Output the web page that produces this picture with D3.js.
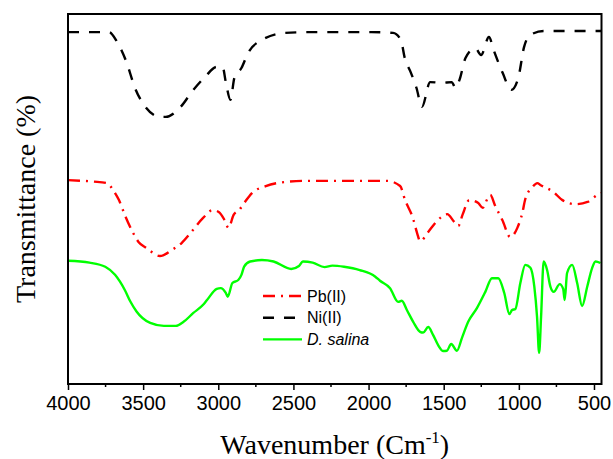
<!DOCTYPE html>
<html>
<head>
<meta charset="utf-8">
<script src="https://cdn.jsdelivr.net/npm/d3@7"></script>
<style>
  body { margin: 0; background: #fff; }
  svg { display: block; }
</style>
</head>
<body>
<div id="chart"></div>
<script>
const width = 613;
const height = 459;
const margin = { top: 14, right: 11.5, bottom: 75, left: 68 };

// wavenumber (cm-1), transmittance in arbitrary offset units (0-100)
const niWave = [4000, 3726, 3674, 3609, 3557, 3479, 3388, 3349, 3257, 3166, 3088, 3010, 2971, 2950, 2919, 2893, 2846, 2801, 2710, 2554, 2372, 1981, 1837, 1785, 1759, 1720, 1681, 1645, 1590, 1512, 1447, 1421, 1395, 1355, 1290, 1251, 1199, 1168, 1108, 1050, 1004, 965, 926, 834, 450];
const niT = [95.1, 95.1, 92.5, 86.8, 80.3, 74.6, 72.2, 72.2, 74.6, 79.5, 83.0, 85.7, 85.7, 81.6, 76.8, 82.7, 85.4, 89.5, 93.0, 94.9, 95.1, 95.1, 94.9, 93.0, 88.1, 84.3, 80.0, 74.9, 81.6, 81.4, 81.6, 80.0, 82.2, 88.1, 90.8, 88.9, 93.8, 90.3, 84.1, 79.5, 82.7, 91.1, 94.3, 95.4, 95.4];

const pbWave = [4000, 3831, 3739, 3700, 3661, 3622, 3570, 3531, 3479, 3388, 3310, 3244, 3179, 3101, 3036, 2997, 2958, 2932, 2898, 2861, 2828, 2776, 2684, 2554, 2424, 2241, 1877, 1790, 1757, 1703, 1677, 1657, 1603, 1550, 1477, 1430, 1403, 1375, 1330, 1270, 1240, 1210, 1190, 1160, 1137, 1110, 1057, 1010, 977, 957, 910, 877, 857, 770, 710, 623, 543, 477, 450];
const pbT = [55.1, 54.7, 54.3, 52.4, 49.7, 45.7, 41.1, 38.4, 36.8, 34.6, 36.2, 38.1, 41.1, 44.9, 47.0, 46.5, 44.3, 42.2, 45.7, 47.0, 48.9, 51.6, 53.5, 54.6, 54.9, 54.9, 54.9, 53.5, 49.7, 44.6, 40.8, 38.6, 41.1, 43.8, 45.9, 43.8, 42.7, 45.7, 49.7, 48.9, 47.6, 50.0, 51.1, 48.4, 46.5, 44.3, 39.7, 42.2, 46.2, 50.0, 53.2, 54.3, 53.8, 51.9, 49.7, 48.6, 49.2, 51.1, 51.6];

const dsWave = [4000, 3857, 3752, 3687, 3622, 3585, 3544, 3453, 3362, 3283, 3231, 3166, 3101, 3075, 3010, 2984, 2950, 2937, 2906, 2867, 2846, 2828, 2788, 2710, 2632, 2515, 2463, 2437, 2372, 2293, 2241, 2163, 2059, 1955, 1924, 1857, 1803, 1779, 1745, 1703, 1657, 1637, 1603, 1570, 1537, 1503, 1479, 1450, 1412, 1379, 1337, 1279, 1223, 1179, 1137, 1097, 1063, 1045, 1023, 990, 957, 923, 897, 879, 865, 852, 835, 812, 790, 768, 728, 705, 695, 679, 645, 612, 579, 545, 512, 490, 457];
const dsT = [33.3, 32.8, 31.7, 29.5, 25.4, 22.3, 19.6, 16.5, 15.7, 15.7, 16.8, 19.2, 21.4, 22.7, 25.7, 25.9, 24.6, 23.6, 27.3, 28.1, 29.5, 31.7, 33.1, 33.5, 33.1, 31.1, 31.9, 33.1, 32.8, 31.6, 32.0, 31.7, 30.8, 29.0, 27.9, 25.9, 22.2, 22.5, 20.0, 16.8, 14.1, 13.9, 15.4, 13.2, 10.5, 8.9, 9.0, 10.8, 9.0, 12.4, 16.8, 20.5, 24.9, 28.6, 28.6, 24.6, 18.9, 20.0, 20.3, 27.3, 32.2, 31.4, 26.3, 18.2, 8.4, 18.2, 33.1, 30.8, 26.3, 24.9, 27.0, 25.7, 22.7, 30.0, 32.2, 27.3, 21.1, 26.3, 31.4, 33.1, 32.7];

const xTicks = [4000, 3500, 3000, 2500, 2000, 1500, 1000, 500];
const xMinor = [3750, 3250, 2750, 2250, 1750, 1250, 750];

const series = [
    { name: "Pb(II)", wave: pbWave, t: pbT, color: "#ff0000", dash: "12,6,2,6", italic: false },
    { name: "Ni(II)", wave: niWave, t: niT, color: "#000000", dash: "11,10", italic: false },
    { name: "D. salina", wave: dsWave, t: dsT, color: "#00ff00", dash: null, italic: true },
];

const svg = d3.select("#chart")
    .append("svg")
    .attr("width", width)
    .attr("height", height);

const x = d3.scaleLinear()
    .domain([4000, 450])
    .range([margin.left, width - margin.right]);

const y = d3.scaleLinear()
    .domain([0, 100])
    .range([height - margin.bottom, margin.top]);

const line = d3.line()
    .x(d => x(d[0]))
    .y(d => y(d[1]))
    .curve(d3.curveMonotoneX);

// draw the spectra
series.slice().reverse().forEach(s => {
    const pts = s.wave.map((w, i) => [w, s.t[i]]);
    svg.append("path")
        .datum(pts)
        .attr("d", line)
        .attr("fill", "none")
        .attr("stroke", s.color)
        .attr("stroke-width", 2.4)
        .attr("stroke-dasharray", s.dash)
        .attr("stroke-linejoin", "round");
});

// frame
svg.append("rect")
    .attr("x", margin.left)
    .attr("y", margin.top)
    .attr("width", width - margin.left - margin.right)
    .attr("height", height - margin.top - margin.bottom)
    .attr("fill", "none")
    .attr("stroke", "#000")
    .attr("stroke-width", 2);

// x axis
const xAxis = svg.append("g")
    .attr("transform", `translate(0,${height - margin.bottom})`)
    .call(d3.axisBottom(x).tickValues(xTicks).tickSize(6).tickPadding(6).tickFormat(d3.format("d")));
xAxis.select(".domain").remove();
xAxis.selectAll(".tick line").attr("stroke-width", 1.5);
xAxis.selectAll("text")
    .attr("font-family", "Arial, 'Liberation Sans', sans-serif")
    .attr("font-size", 20)
    .attr("fill", "#000");

svg.append("g")
    .selectAll("line")
    .data(xMinor)
    .enter()
    .append("line")
    .attr("x1", d => x(d))
    .attr("x2", d => x(d))
    .attr("y1", height - margin.bottom)
    .attr("y2", height - margin.bottom + 3)
    .attr("stroke", "#000")
    .attr("stroke-width", 1.5);

// axis titles
const xTitle = svg.append("text")
    .attr("x", (margin.left + width - margin.right) / 2)
    .attr("y", 454)
    .attr("text-anchor", "middle")
    .attr("font-family", "'Liberation Serif', 'Times New Roman', serif")
    .attr("font-size", 28)
    .attr("fill", "#000");
xTitle.append("tspan").text("Wavenumber (Cm");
xTitle.append("tspan").attr("font-size", 17).attr("dy", -11).text("-1");
xTitle.append("tspan").attr("dy", 11).text(")");

svg.append("text")
    .attr("transform", `translate(35,${(margin.top + height - margin.bottom) / 2}) rotate(-90)`)
    .attr("text-anchor", "middle")
    .attr("font-family", "'Liberation Serif', 'Times New Roman', serif")
    .attr("font-size", 28)
    .attr("fill", "#000")
    .text("Transmittance (%)");

// legend
const legend = svg.append("g").attr("transform", "translate(263,296)");
series.forEach((s, i) => {
    const row = legend.append("g").attr("transform", `translate(0,${i * 21.7})`);
    row.append("line")
        .attr("x1", 0)
        .attr("x2", 39)
        .attr("y1", 0)
        .attr("y2", 0)
        .attr("stroke", s.color)
        .attr("stroke-width", 2.4)
        .attr("stroke-dasharray", s.dash);
    row.append("text")
        .attr("x", 44)
        .attr("y", 0)
        .attr("dy", "0.35em")
        .attr("font-family", "Arial, 'Liberation Sans', sans-serif")
        .attr("font-size", 16)
        .attr("font-style", s.italic ? "italic" : "normal")
        .attr("fill", "#000")
        .text(s.name);
});
</script>
</body>
</html>
